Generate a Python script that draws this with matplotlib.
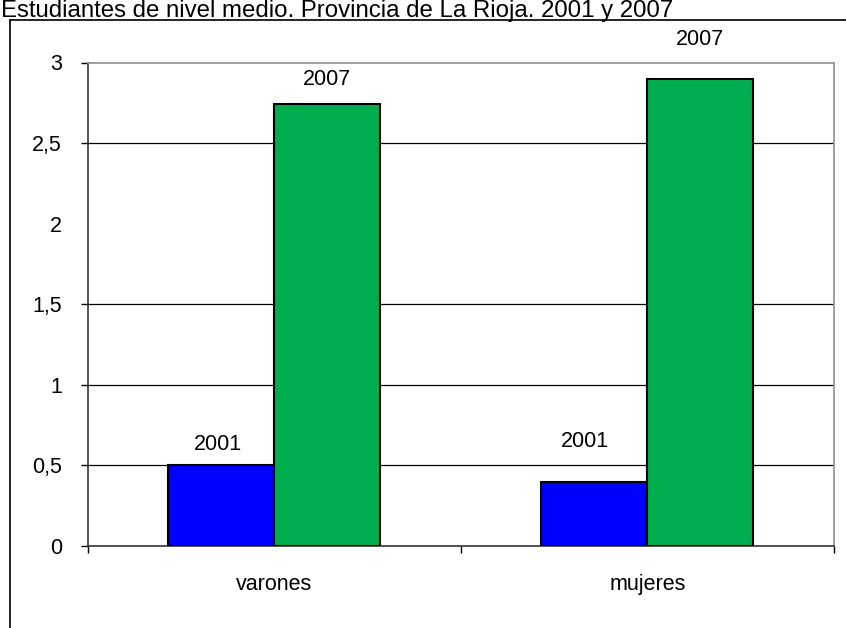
import matplotlib
matplotlib.use("Agg")
import matplotlib.pyplot as plt
from matplotlib.lines import Line2D
import numpy as np

plt.rcParams['font.family'] = ['Liberation Sans', 'DejaVu Sans']

title = "Estudiantes de nivel medio. Provincia de La Rioja. 2001 y 2007"
categories = ["varones", "mujeres"]
series_names = ["2001", "2007"]
values_2001 = [0.5, 0.4]
values_2007 = [2.745, 2.90]
yticks = [0, 0.5, 1, 1.5, 2, 2.5, 3]
ytick_labels = ["0", "0,5", "1", "1,5", "2", "2,5", "3"]
grid_values = [0.5, 1, 1.5, 2.5]

W, H = 846, 628
fig = plt.figure(figsize=(W / 100, H / 100), dpi=100)
ax = fig.add_axes([87.5 / W, 1 - 546 / H, (834 - 87.5) / W, (546 - 62.5) / H])

x = np.arange(len(categories))
bw = 0.284
colors = ["#0000FF", "#00AD4E"]
b1 = ax.bar(x - bw / 2, values_2001, bw, color=colors[0], edgecolor="black", linewidth=1.5, zorder=3)
b2 = ax.bar(x + bw / 2, values_2007, bw, color=colors[1], edgecolor="black", linewidth=1.5, zorder=3)

FS = 15.5
# data labels (offsets in points, positions were manually moved in source)
offs_2001 = [(-2, 15), (-7, 29)]
offs_2007 = [(0, 17.5), (0, 28.5)]
for bars, name, offs in ((b1, series_names[0], offs_2001), (b2, series_names[1], offs_2007)):
    for rect, (dx, dy) in zip(bars, offs):
        ax.annotate(name, (rect.get_x() + rect.get_width() / 2, rect.get_height()),
                    xytext=(dx, dy), textcoords="offset points", ha="center", va="center",
                    fontsize=FS, color="black", annotation_clip=False)

for g in grid_values:
    ax.axhline(g, color="black", linewidth=0.9, zorder=1)

ax.set_xlim(-0.5, 1.5)
ax.set_ylim(0, 3)
ax.set_yticks(yticks)
ax.set_yticklabels(ytick_labels, fontsize=FS)
ax.tick_params(axis="y", direction="out", length=4.8, width=1, pad=13.5, colors="black")
for t in ax.yaxis.get_major_ticks():
    if abs(t.get_loc() - 2) < 1e-9:
        t.tick1line.set_visible(False)

ax.set_xticks(x)
ax.set_xticklabels(categories, fontsize=FS)
ax.tick_params(axis="x", which="major", length=0, pad=20)
ax.set_xticks([-0.5, 0.5, 1.5], minor=True)
ax.tick_params(axis="x", which="minor", direction="out", length=5, width=1, color="black")

ax.spines["left"].set_color("#333333")
ax.spines["bottom"].set_color("#333333")
ax.spines["left"].set_linewidth(1.2)
ax.spines["bottom"].set_linewidth(1.2)
ax.spines["top"].set_color("#909090")
ax.spines["right"].set_color("#909090")
ax.spines["top"].set_linewidth(1.2)
ax.spines["right"].set_linewidth(1.2)

# outer chart frame
fig.add_artist(Line2D([10 / W, 10 / W], [0, 1 - 20 / H], color="black", linewidth=1.2, transform=fig.transFigure))
fig.add_artist(Line2D([10 / W, 1], [1 - 20 / H, 1 - 20 / H], color="black", linewidth=1.2, transform=fig.transFigure))

fig.text(1 / W, 1 - 17.5 / H, title, fontsize=17.3, ha="left", va="baseline", color="black")

fig.savefig("out.png", dpi=100)
